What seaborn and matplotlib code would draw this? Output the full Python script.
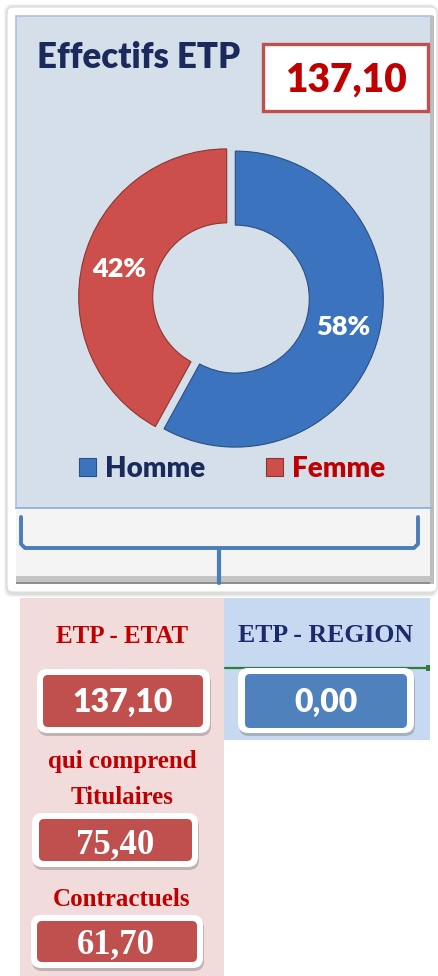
import matplotlib.pyplot as plt
import numpy as np
import seaborn as sns
from matplotlib.patches import FancyBboxPatch, Rectangle

# data
genres = ["Homme", "Femme"]
parts = [58, 42]
total_etp = 137.10
col_titles = ["ETP - ETAT", "ETP - REGION"]
col_values = [137.10, 0.00]
sub_titles = ["Titulaires", "Contractuels"]
sub_values = [75.40, 61.70]

W, H = 438, 976
sns.set_theme(style="white")
plt.rcParams["font.family"] = ["Lato", "DejaVu Sans"]

pie_colors = sns.color_palette(["#3b73bf", "#cc4f4b"])
NAVY = "#1b2a5c"
DARKRED = "#c00000"
SERIF = "Liberation Serif"
HEAVY = "heavy"


def fr(v):
    return f"{v:.2f}".replace(".", ",")


def rbox(ax, x0, y0, x1, y1, fc, ec="none", lw=0, r=0, z=1, alpha=1):
    ax.add_patch(FancyBboxPatch((x0, y0), x1 - x0, y1 - y0,
                                boxstyle=f"round,pad=0,rounding_size={r}",
                                fc=fc, ec=ec, lw=lw, zorder=z, alpha=alpha))


def value_box(ax, outer, inner, fc, text, tx, ty, **kw):
    x0, y0, x1, y1 = outer
    rbox(ax, x0 + 1, y0 + 3, x1 + 1, y1 + 3, "#808080", r=10, z=2, alpha=0.45)
    rbox(ax, x0, y0, x1, y1, "white", r=10, z=3)
    rbox(ax, *inner, fc, r=5, z=4)
    ax.text(tx, ty, text, color="white", ha="center", va="baseline", zorder=5, **kw)


fig = plt.figure(figsize=(W / 100, H / 100), dpi=100)
fig.patch.set_facecolor("white")
bg = fig.add_axes([0, 0, 1, 1])
bg.set_xlim(0, W)
bg.set_ylim(H, 0)
bg.axis("off")

# top card
for i, a in enumerate([0.10, 0.12, 0.15]):
    rbox(bg, 4 + i, 4 + i, 438 - i, 597 - i, "#9a9a9a", r=8, z=0, alpha=a)
rbox(bg, 7, 7, 437, 592, "white", ec="#dcdcdc", lw=0.8, r=6, z=1)
rbox(bg, 16, 16, 432, 508, "#d5dfea", ec="#a9c1de", lw=1.2, z=1)
bg.add_patch(Rectangle((16, 508), 416, 76, fc="#f4f4f4", ec="none", zorder=1))
bg.add_patch(Rectangle((16, 576), 416, 8, fc="#c4c4c4", ec="none", zorder=1))
bg.add_patch(Rectangle((16, 582), 416, 2, fc="#8f8f8f", ec="none", zorder=1))
bg.add_patch(Rectangle((430, 16), 4, 568, fc="#bdbdbd", ec="none", zorder=1))
bg.plot([16, 432], [508, 508], color="#8fb0d8", lw=1.2, zorder=2)

# bracket
bx = [21, 21, 25, 414, 418, 418]
by = [517, 544, 548, 548, 544, 517]
bg.plot(bx, by, color="#4a7ebb", lw=2.8, solid_joinstyle="round", zorder=3)
bg.plot([219, 219], [548, 583], color="#4a7ebb", lw=3, zorder=3)

# title and total
bg.text(37, 68, "Effectifs ETP", color=NAVY, fontsize=25, fontweight=HEAVY,
        ha="left", va="baseline", zorder=4)
bg.add_patch(Rectangle((263, 44), 165, 67, fc="white", ec="#c0504d", lw=2.4, zorder=3))
bg.text(346, 92, fr(total_etp), color=DARKRED, fontsize=28, fontweight=HEAVY,
        ha="center", va="baseline", zorder=4)

# donut
cx, cy, R, lim = 231, 298, 148, 1.2
side = 2 * lim * R
pie_ax = fig.add_axes([(cx - side / 2) / W, 1 - (cy + side / 2) / H, side / W, side / H])
wedges, _, autotexts = pie_ax.pie(
    parts, colors=pie_colors, startangle=90, counterclock=False,
    explode=[0.03, 0.03], pctdistance=0.75,
    autopct=lambda p: f"{p:.0f}%",
    wedgeprops=dict(width=0.5, edgecolor="#2b4f80", linewidth=0.8),
    textprops=dict(color="white", fontsize=19.5, fontweight=HEAVY),
)
wedges[1].set_edgecolor("#8e3532")
pie_ax.set_xlim(-lim, lim)
pie_ax.set_ylim(-lim, lim)
pie_ax.set_aspect("equal")
pie_ax.patch.set_alpha(0)

leg = fig.legend(wedges, genres, loc="center", bbox_to_anchor=(232 / W, 1 - 469 / H),
                 ncol=2, frameon=False, handlelength=0.62, handleheight=0.62,
                 handletextpad=0.3, columnspacing=2.2,
                 prop=dict(family="Lato", weight=HEAVY, size=20))
for t, c in zip(leg.get_texts(), [NAVY, DARKRED]):
    t.set_color(c)

# lower columns
bg.add_patch(Rectangle((20, 598), 204, 378, fc="#f2dcdb", ec="none", zorder=1))
bg.add_patch(Rectangle((224, 598), 206, 142, fc="#c6d9f1", ec="none", zorder=1))
bg.plot([225, 428], [668, 668], color="#2e7d3a", lw=1.6, zorder=2)
bg.add_patch(Rectangle((426, 665), 4, 6, fc="#2e7d3a", ec="none", zorder=2))

bg.text(122, 643, col_titles[0], color=DARKRED, fontsize=18, family=SERIF,
        fontweight="bold", ha="center", va="baseline", zorder=4)
bg.text(326, 642, col_titles[1], color="#1b2a6b", fontsize=18.5, family=SERIF,
        fontweight="bold", ha="center", va="baseline", zorder=4)

value_box(bg, (37, 669, 210, 733), (43, 675, 203, 727), "#c0504d", fr(col_values[0]),
          123, 712, fontsize=23, fontweight=HEAVY)
value_box(bg, (238, 668, 414, 733), (245, 674, 407, 728), "#4f81bd", fr(col_values[1]),
          326, 712, fontsize=23, fontweight=HEAVY)

bg.text(122, 768, "qui comprend", color=DARKRED, fontsize=18, family=SERIF,
        fontweight="bold", ha="center", va="baseline", zorder=4)
bg.text(122, 804, sub_titles[0], color=DARKRED, fontsize=18, family=SERIF,
        fontweight="bold", ha="center", va="baseline", zorder=4)
value_box(bg, (32, 813, 198, 867), (39, 819, 192, 861), "#c0504d", fr(sub_values[0]),
          115, 853, fontsize=25, family=SERIF, fontweight="bold")
bg.text(122, 906, sub_titles[1], color=DARKRED, fontsize=18, family=SERIF,
        fontweight="bold", ha="center", va="baseline", zorder=4)
value_box(bg, (31, 915, 203, 968), (37, 921, 197, 962), "#c0504d", fr(sub_values[1]),
          116, 953, fontsize=25, family=SERIF, fontweight="bold")

fig.savefig("out.png", dpi=100)
